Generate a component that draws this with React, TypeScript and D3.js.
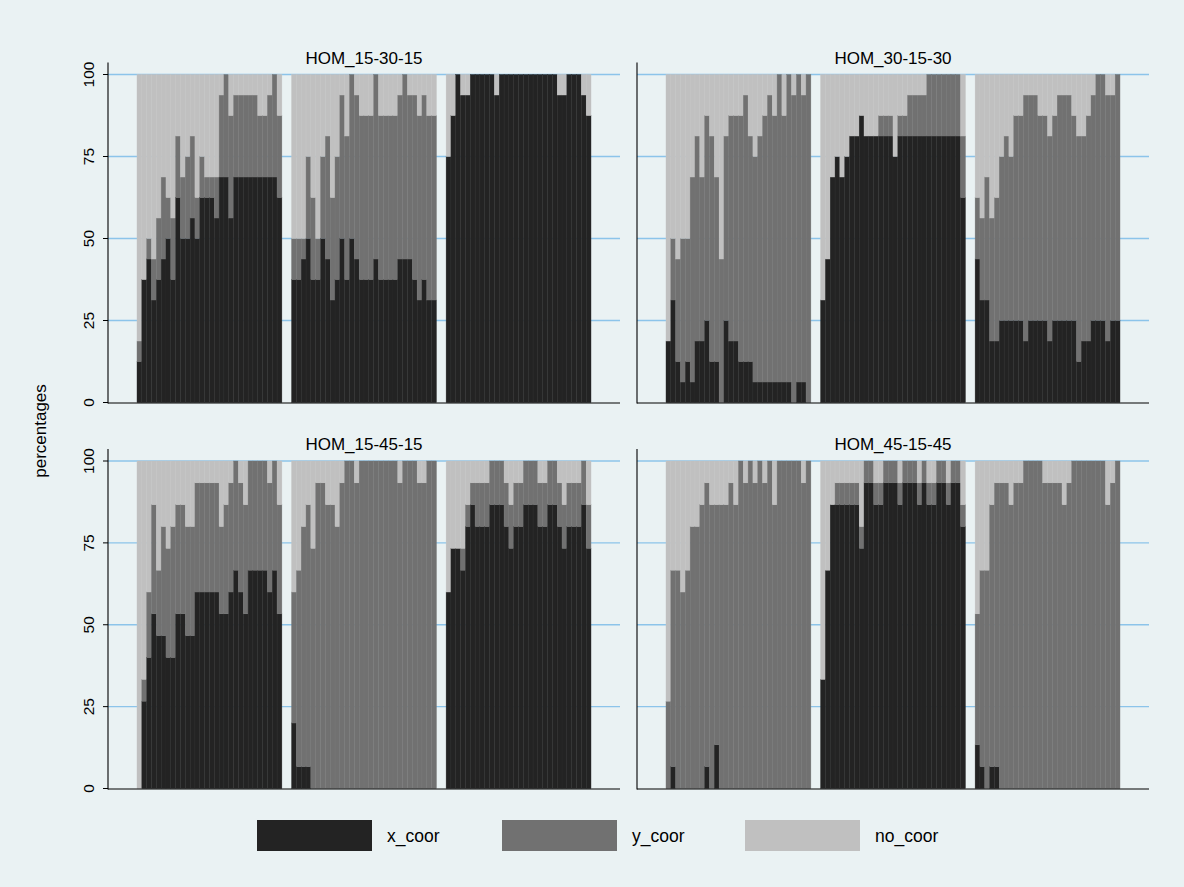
import React from "react";
import * as d3 from "d3";

// Panel titles (by-groups) and group sizes (respondents per round)
const panelTitles = ["HOM_15-30-15", "HOM_30-15-30", "HOM_15-45-15", "HOM_45-15-45"];
const groupSize = [16, 16, 15, 15];
const seriesNames = ["x_coor", "y_coor", "no_coor"];
const yTicks = [0, 25, 50, 75, 100];

// Counts of x_coor / y_coor per round (30 rounds) for the three blocks of every panel
const xCoor_15_30_15 = [
  [2,6,7,5,6,7,8,6,10,8,8,9,8,10,10,10,9,11,11,9,11,11,11,11,11,11,11,11,11,10],
  [6,6,7,8,6,6,8,7,5,6,8,6,8,7,6,6,6,7,6,6,6,6,7,7,7,6,5,6,5,5],
  [12,14,16,15,15,16,16,16,16,16,15,16,16,16,16,16,16,16,16,16,16,16,16,15,15,16,16,16,15,14],
];
const yCoor_15_30_15 = [
  [1,0,1,2,3,4,2,3,3,3,4,4,2,2,1,1,2,4,5,5,4,4,4,4,4,3,3,4,5,4],
  [2,2,1,4,4,2,4,6,5,6,7,7,8,8,8,8,8,9,8,8,8,8,8,9,8,9,9,9,9,9],
  [0,0,0,0,0,0,0,0,0,0,0,0,0,0,0,0,0,0,0,0,0,0,0,0,0,0,0,0,0,0],
];
const xCoor_30_15_30 = [
  [3,5,2,1,2,1,3,3,4,2,2,0,4,3,3,2,2,2,1,1,1,1,1,1,1,1,0,1,1,0],
  [5,7,11,12,11,12,13,13,14,13,13,13,13,13,13,12,13,13,13,13,13,13,13,13,13,13,13,13,13,10],
  [7,5,5,3,3,4,4,4,4,4,3,4,4,4,4,3,4,4,4,4,4,2,3,3,4,4,4,3,4,4],
];
const yCoor_30_15_30 = [
  [0,3,5,7,6,10,10,8,10,11,9,7,9,11,11,12,13,11,11,12,13,14,13,15,13,15,15,15,14,16],
  [0,0,0,0,0,0,0,0,0,0,0,0,1,1,1,0,1,1,2,2,2,2,3,3,3,3,3,3,3,3],
  [3,4,6,6,7,8,9,8,10,10,12,11,11,10,10,10,10,11,11,11,10,11,10,11,11,12,12,12,11,12],
];
const xCoor_15_45_15 = [
  [0,4,6,8,7,7,6,6,8,8,7,7,9,9,9,9,9,8,8,9,10,9,8,10,10,10,10,9,10,8],
  [3,1,1,1,0,0,0,0,0,0,0,0,0,0,0,0,0,0,0,0,0,0,0,0,0,0,0,0,0,0],
  [9,11,11,10,12,13,12,12,12,13,13,13,12,11,12,12,13,13,13,12,12,13,13,12,11,12,12,12,13,11],
];
const yCoor_15_45_15 = [
  [0,1,3,5,3,5,5,6,5,5,5,5,5,5,5,5,5,4,5,5,5,5,5,5,5,5,5,5,5,5],
  [6,9,11,12,11,14,14,13,13,12,14,15,15,14,15,15,15,15,15,15,15,15,14,15,15,15,14,14,15,15],
  [0,0,0,1,1,1,2,2,2,2,2,2,2,2,2,2,2,2,2,2,2,2,2,2,2,2,2,2,2,2],
];
const xCoor_45_15_45 = [
  [0,1,0,0,0,0,0,0,1,0,2,0,0,0,0,0,0,0,0,0,0,0,0,0,0,0,0,0,0,0],
  [5,10,13,13,13,13,13,13,11,14,14,13,13,14,14,14,13,14,14,14,13,14,13,13,14,14,13,14,14,12],
  [2,1,0,1,1,0,0,0,0,0,0,0,0,0,0,0,0,0,0,0,0,0,0,0,0,0,0,0,0,0],
];
const yCoor_45_15_45 = [
  [4,9,10,9,10,12,12,13,13,13,11,13,13,14,13,15,14,15,14,15,14,15,13,15,15,15,15,15,14,15],
  [0,0,0,1,1,1,1,1,1,1,1,1,1,1,1,1,1,1,1,1,1,1,1,1,1,1,1,1,1,1],
  [6,9,10,12,13,14,14,13,14,14,15,15,15,15,14,14,14,14,13,14,15,15,15,15,15,15,15,13,14,15],
];

const xCoorByPanel = [xCoor_15_30_15, xCoor_30_15_30, xCoor_15_45_15, xCoor_45_15_45];
const yCoorByPanel = [yCoor_15_30_15, yCoor_30_15_30, yCoor_15_45_15, yCoor_45_15_45];

const COLORS = ["#232323", "#717171", "#c0c0c0"];
const EDGE = ["#2c2c2c", "#777777", "#c4c4c4"];
const W = 1184;
const H = 887;
const FONT = "'Liberation Sans', Arial, Helvetica, sans-serif";

const ROUNDS = 30;
const GAP = 2;
const SLOTS = ROUNDS * 3 + GAP * 2;

const panelLayout = [
  { x0: 108, top: 74.5, bottom: 402.5 },
  { x0: 637, top: 74.5, bottom: 402.5 },
  { x0: 108, top: 461, bottom: 788.5 },
  { x0: 637, top: 461, bottom: 788.5 },
];
const PW = 512;
const INSET = 29;

function Panel({ p }: { p: number }) {
  const L = panelLayout[p];
  const y = d3.scaleLinear().domain([0, 100]).range([L.bottom, L.top]);
  const xb = d3
    .scaleBand<number>()
    .domain(d3.range(SLOTS))
    .range([L.x0 + INSET, L.x0 + PW - INSET])
    .paddingInner(0)
    .paddingOuter(0);
  const n = groupSize[p];
  const rects: any[] = [];
  for (let b = 0; b < 3; b++) {
    for (let i = 0; i < ROUNDS; i++) {
      const xc = xCoorByPanel[p][b][i];
      const yc = yCoorByPanel[p][b][i];
      const nc = n - xc - yc;
      const vals = [xc, yc, nc].map((v) => (v / n) * 100);
      const slot = b * (ROUNDS + GAP) + i;
      const bx = xb(slot)!;
      let cum = 0;
      vals.forEach((v, s) => {
        if (v <= 0) return;
        const yTop = y(cum + v);
        const yBot = y(cum);
        rects.push(
          <rect
            key={`${b}-${i}-${s}`}
            x={bx}
            y={yTop}
            width={xb.bandwidth()}
            height={yBot - yTop}
            fill={COLORS[s]}
            stroke={EDGE[s]}
            strokeWidth={0.4}
          />
        );
        cum += v;
      });
    }
  }
  const isLeft = p % 2 === 0;
  return (
    <g>
      {yTicks
        .filter((t) => t > 0)
        .map((t) => (
          <line key={t} x1={L.x0} x2={L.x0 + PW} y1={y(t)} y2={y(t)} stroke="#8cc4ea" strokeWidth={1.3} />
        ))}
      {rects}
      <line x1={L.x0} x2={L.x0 + PW} y1={L.bottom + 0.5} y2={L.bottom + 0.5} stroke="#000" strokeWidth={1.2} />
      <line x1={L.x0} x2={L.x0} y1={L.top - 12} y2={L.bottom + 1} stroke="#000" strokeWidth={1.1} />
      {isLeft &&
        yTicks.map((t) => (
          <g key={t}>
            <line x1={L.x0 - 5} x2={L.x0} y1={y(t)} y2={y(t)} stroke="#000" strokeWidth={1} />
            <text
              transform={`translate(${L.x0 - 14},${y(t)}) rotate(-90)`}
              textAnchor="middle"
              fontSize={15.5}
              fontFamily={FONT}
              fill="#000"
            >
              {t}
            </text>
          </g>
        ))}
      <text x={L.x0 + PW / 2} y={L.top - 11} textAnchor="middle" fontSize={17} fontFamily={FONT} fill="#000">
        {panelTitles[p]}
      </text>
    </g>
  );
}

export default function App() {
  const legendX = [257, 502, 745];
  return (
    <svg
      width={W}
      height={H}
      style={{ position: "absolute", left: 0, top: 0, display: "block" }}
      xmlns="http://www.w3.org/2000/svg"
    >
      <rect x={0} y={0} width={W} height={H} fill="#eaf2f3" />
      {[0, 1, 2, 3].map((p) => (
        <Panel key={p} p={p} />
      ))}
      <text
        transform={`translate(46,431) rotate(-90)`}
        textAnchor="middle"
        fontSize={17}
        fontFamily={FONT}
        fill="#000"
      >
        percentages
      </text>
      {seriesNames.map((s, i) => (
        <g key={s}>
          <rect x={legendX[i]} y={820} width={115} height={31} fill={COLORS[i]} />
          <text x={legendX[i] + 130} y={842} fontSize={17.5} fontFamily={FONT} fill="#000">
            {s}
          </text>
        </g>
      ))}
    </svg>
  );
}
